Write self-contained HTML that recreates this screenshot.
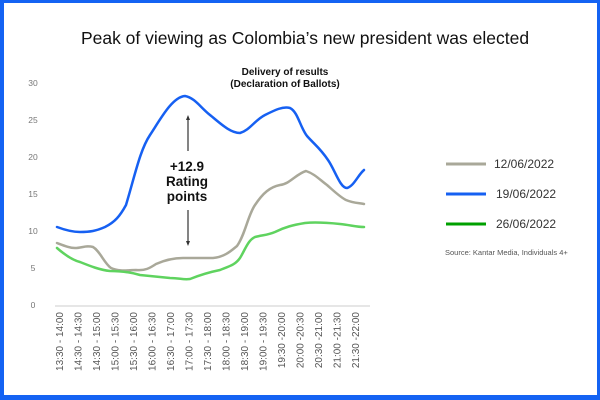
<!DOCTYPE html>
<html><head><meta charset="utf-8"><style>
html,body{margin:0;padding:0;background:#fff}
.f{position:absolute;left:0;top:0;width:600px;height:400px;box-sizing:border-box;border:4px solid #1463f3;border-top-width:3px;border-bottom-width:5px;border-right-width:3px}
text{font-family:"Liberation Sans",sans-serif}
</style></head><body>
<div class="f"></div>
<svg width="600" height="400" style="position:absolute;left:0;top:0">
<text x="305" y="44" text-anchor="middle" font-size="17.5" fill="#111">Peak of viewing as Colombia’s new president was elected</text>
<g font-size="8.5" fill="#777" text-anchor="middle">
<text x="33" y="86">30</text><text x="33" y="123">25</text><text x="33" y="160">20</text><text x="33" y="197">15</text><text x="33" y="234">10</text><text x="33" y="271">5</text><text x="33" y="308">0</text>
</g>
<line x1="55" y1="306" x2="370" y2="306" stroke="#ddd" stroke-width="1.5"/>
<g font-size="10" fill="#555">
<text transform="translate(63,312) rotate(-90)" text-anchor="end">13:30 - 14:00</text>
<text transform="translate(81.5,312) rotate(-90)" text-anchor="end">14:30 - 14:30</text>
<text transform="translate(100,312) rotate(-90)" text-anchor="end">14:30 - 15:00</text>
<text transform="translate(118.5,312) rotate(-90)" text-anchor="end">15:00 - 15:30</text>
<text transform="translate(137,312) rotate(-90)" text-anchor="end">15:30 - 16:00</text>
<text transform="translate(155.5,312) rotate(-90)" text-anchor="end">16:00 - 16:30</text>
<text transform="translate(174,312) rotate(-90)" text-anchor="end">16:30 - 17:00</text>
<text transform="translate(192.5,312) rotate(-90)" text-anchor="end">17:00 - 17:30</text>
<text transform="translate(211,312) rotate(-90)" text-anchor="end">17:30 - 18:00</text>
<text transform="translate(229.5,312) rotate(-90)" text-anchor="end">18:00 - 18:30</text>
<text transform="translate(248,312) rotate(-90)" text-anchor="end">18:30 - 19:00</text>
<text transform="translate(266.5,312) rotate(-90)" text-anchor="end">19:00 - 19:30</text>
<text transform="translate(285,312) rotate(-90)" text-anchor="end">19:30 -20:00</text>
<text transform="translate(303.5,312) rotate(-90)" text-anchor="end">20:00 -20:30</text>
<text transform="translate(322,312) rotate(-90)" text-anchor="end">20:30 -21:00</text>
<text transform="translate(340.5,312) rotate(-90)" text-anchor="end">21:00 -21:30</text>
<text transform="translate(359,312) rotate(-90)" text-anchor="end">21:30 -22:00</text>
</g>
<g fill="none" stroke-width="2.5" stroke-linejoin="round" stroke-linecap="round">
<path stroke="#a9a899" d="M57,243 C65,246 70,248 75,248 C82,248 86,245 93,247 C100,251 104,263 111,268 C120,272 128,270 136,270 C145,271 150,268 156,264 C165,260 175,258 183,258 C195,258 205,258 213,258 C225,257 232,250 237,246 C245,235 248,215 255,205 C263,193 270,187 280,185 C290,184 296,174 306,171 C315,174 320,180 327,185 C335,192 340,197 346,200 C353,203 359,203 364,204"/>
<path stroke="#1660f2" d="M57,227 C65,230 72,232 80,232 C90,232 96,231 105,227 C115,222 120,216 126,205 C135,175 140,150 150,135 C160,120 172,97 185,96 C195,98 200,107 210,115 C220,123 230,133 240,133 C250,130 255,120 265,115 C275,110 283,106 290,108 C298,112 300,127 307,136 C315,145 320,148 328,160 C335,170 340,188 347,188 C354,186 358,175 364,170"/>
<path stroke="#5fd35f" d="M57,248 C65,255 72,260 80,262 C90,266 100,270 110,271 C120,271 130,272 140,275 C150,276 160,277 170,278 C180,278 183,280 190,279 C200,275 210,272 220,270 C230,266 235,265 240,258 C245,250 248,240 255,237 C263,235 268,235 275,232 C285,227 293,225 305,223 C315,222 330,223 340,224 C350,225 357,227 364,227"/>
</g>
<text x="285" y="75" text-anchor="middle" font-size="10" font-weight="bold" fill="#111">Delivery of results</text>
<text x="285" y="87" text-anchor="middle" font-size="10" font-weight="bold" fill="#111">(Declaration of Ballots)</text>
<g stroke="#333" stroke-width="1.2"><line x1="188" y1="118" x2="188" y2="151"/><line x1="188" y1="210" x2="188" y2="243"/></g>
<path d="M186,120 L188,115 L190,120Z M186,241 L188,246 L190,241Z" fill="#333"/>
<g font-size="13.5" font-weight="bold" fill="#111" text-anchor="middle">
<text x="187" y="171">+12.9</text><text x="187" y="186">Rating</text><text x="187" y="201">points</text>
</g>
<g stroke-width="3"><line x1="446" y1="164" x2="486" y2="164" stroke="#a9a899"/><line x1="446" y1="194" x2="486" y2="194" stroke="#1660f2"/><line x1="446" y1="224" x2="486" y2="224" stroke="#00a000"/></g>
<g font-size="12" fill="#333"><text x="494" y="168">12/06/2022</text><text x="496" y="198">19/06/2022</text><text x="496" y="228">26/06/2022</text></g>
<text x="445" y="255" font-size="7.5" fill="#555">Source: Kantar Media, Individuals 4+</text>
</svg>
</body></html>
